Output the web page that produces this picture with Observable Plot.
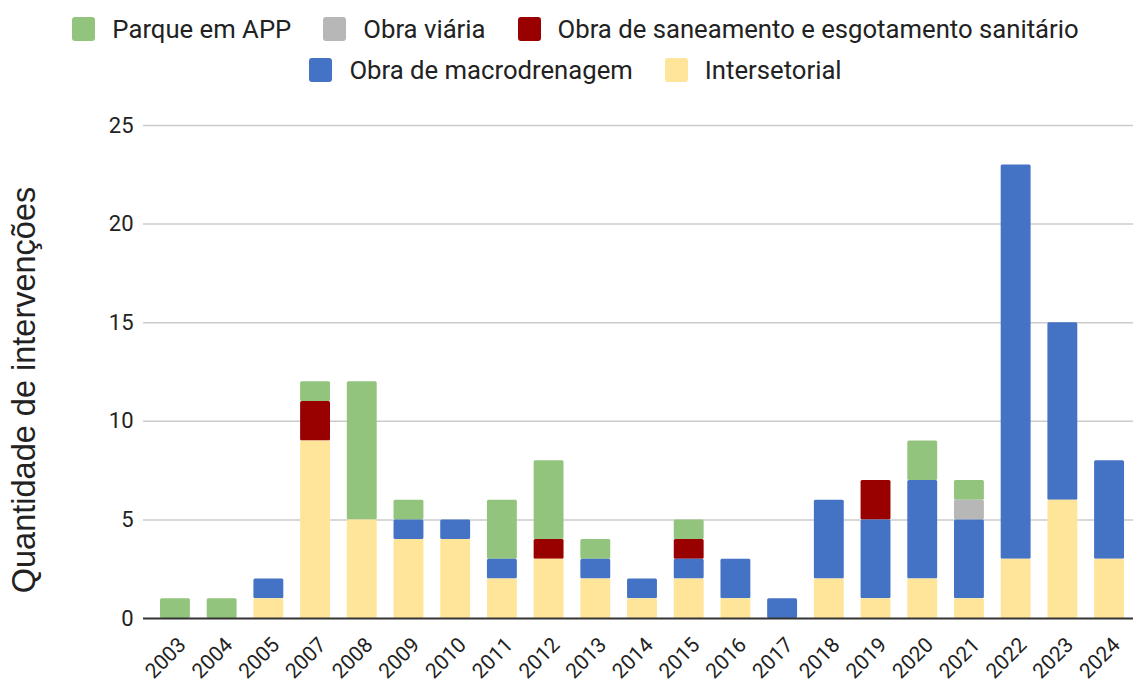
<!DOCTYPE html>
<html>
<head>
<meta charset="utf-8">
<script src="https://cdn.jsdelivr.net/npm/d3@7"></script>
<script src="https://cdn.jsdelivr.net/npm/@observablehq/plot@0.6"></script>
<style>
  html, body { margin: 0; padding: 0; background: #fff; }
  #legend { height: 95px; box-sizing: border-box; padding-top: 8px; padding-left: 18px;
    font-family: "Roboto", sans-serif; font-size: 25.7px; color: #222; }
  .row { display: flex; justify-content: center; align-items: center; height: 41px; }
  .item { display: flex; align-items: center; margin: 0 16px; }
  .sw { width: 23px; height: 24px; border-radius: 3px; margin-right: 17px; }
  #chart svg { display: block; }
</style>
</head>
<body>
<div id="legend"></div>
<div id="chart"></div>
<script>
const years = ["2003","2004","2005","2007","2008","2009","2010","2011","2012","2013","2014","2015","2016","2017","2018","2019","2020","2021","2022","2023","2024"];
const seriesNames = ["Parque em APP","Obra viária","Obra de saneamento e esgotamento sanitário","Obra de macrodrenagem","Intersetorial"];
const seriesColors = ["#93c47d","#b7b7b7","#990000","#4472c4","#ffe599"];
const parqueAPP      = [1,1,0,1,7,1,0,3,4,1,0,1,0,0,0,0,2,1,0,0,0];
const obraViaria     = [0,0,0,0,0,0,0,0,0,0,0,0,0,0,0,0,0,1,0,0,0];
const saneamento     = [0,0,0,2,0,0,0,0,1,0,0,1,0,0,0,2,0,0,0,0,0];
const macrodrenagem  = [0,0,1,0,0,1,1,1,0,1,1,1,2,1,4,4,5,4,20,9,5];
const intersetorial  = [0,0,1,9,5,4,4,2,3,2,1,2,1,0,2,1,2,1,3,6,3];
const yTicks = [0,5,10,15,20,25];
const yLabel = "Quantidade de intervenções";

const valuesBySeries = [parqueAPP, obraViaria, saneamento, macrodrenagem, intersetorial];
const rows = [];
seriesNames.forEach((s, i) => years.forEach((y, j) => {
  if (valuesBySeries[i][j] > 0) rows.push({year: y, series: s, value: valuesBySeries[i][j]});
}));

// legend
const legend = document.getElementById("legend");
const legendRows = [[0,1,2],[3,4]];
legendRows.forEach(r => {
  const row = document.createElement("div");
  row.className = "row";
  r.forEach(i => {
    const it = document.createElement("div");
    it.className = "item";
    const sw = document.createElement("div");
    sw.className = "sw";
    sw.style.background = seriesColors[i];
    const t = document.createElement("span");
    t.textContent = seriesNames[i];
    it.appendChild(sw); it.appendChild(t);
    row.appendChild(it);
  });
  legend.appendChild(row);
});

const stackOrder = ["Intersetorial","Obra de macrodrenagem","Obra de saneamento e esgotamento sanitário","Obra viária","Parque em APP"];

const chart = Plot.plot({
  width: 1133,
  height: 589,
  marginTop: 30,
  marginBottom: 66,
  marginLeft: 143,
  marginRight: 0,
  style: {fontFamily: "Roboto, sans-serif", color: "#222", background: "#fff"},
  x: {domain: years, range: [160, 1124], round: false, paddingInner: 0.36, paddingOuter: 0, label: null},
  y: {domain: [0, 25], label: null},
  color: {domain: seriesNames, range: seriesColors},
  marks: [
    Plot.ruleY(yTicks.filter(d => d > 0), {stroke: "#cccccc", strokeWidth: 1.5}),
    Plot.barY(rows, Plot.stackY({order: stackOrder}, {x: "year", y: "value", fill: "series", rx: 1.5})),
    Plot.ruleY([0], {stroke: "#333", strokeWidth: 2}),
    Plot.axisY({ticks: yTicks, tickSize: 0, tickPadding: 10, fontSize: 22, label: null}),
    Plot.axisX({tickSize: 0, tickPadding: 23, tickRotate: -45, fontSize: 21, label: null, dx: 7}),
    Plot.text([yLabel], {frameAnchor: "left", textAnchor: "middle", rotate: -90, dx: -119, dy: 18,
      fontSize: 32.5, fontFamily: "Liberation Sans, Arial, sans-serif", fill: "#222"})
  ]
});
document.getElementById("chart").appendChild(chart);
</script>
</body>
</html>
